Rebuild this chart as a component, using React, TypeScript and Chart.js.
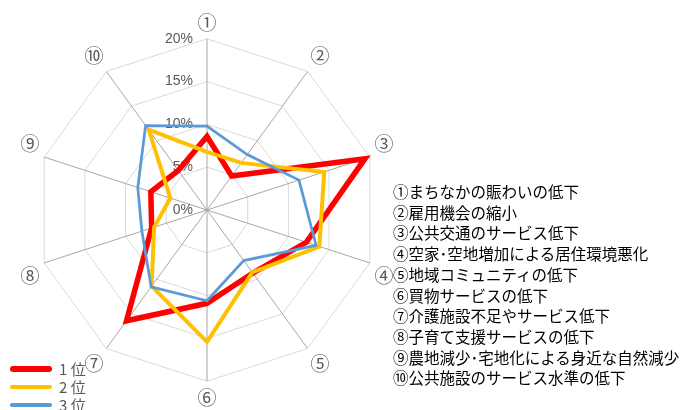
import React, { useEffect, useRef } from "react";
import { Chart, registerables } from "chart.js";

Chart.register(...registerables);

const categories = ["①", "②", "③", "④", "⑤", "⑥", "⑦", "⑧", "⑨", "⑩"];
const itemTexts = [
  "①まちなかの賑わいの低下",
  "②雇用機会の縮小",
  "③公共交通のサービス低下",
  "④空家･空地増加による居住環境悪化",
  "⑤地域コミュニティの低下",
  "⑥買物サービスの低下",
  "⑦介護施設不足やサービス低下",
  "⑧子育て支援サービスの低下",
  "⑨農地減少･宅地化による身近な自然減少",
  "⑩公共施設のサービス水準の低下",
];
const seriesNames = ["1 位", "2 位", "3 位"];
const seriesColors = ["#ff0000", "#ffc000", "#5b9bd5"];
const rank1 = [8.6, 4.9, 19.4, 12.2, 9.1, 10.9, 16.0, 6.8, 6.9, 5.7];
const rank2 = [6.8, 6.8, 14.4, 13.8, 9.0, 15.4, 11.0, 6.5, 4.5, 11.6];
const rank3 = [9.8, 8.0, 11.3, 13.4, 7.3, 10.6, 11.1, 8.0, 8.5, 12.2];
const tickValues = [0, 5, 10, 15, 20];

const lineWidths = [5.5, 4, 2.75];
const legendWidths = [6, 4.5, 3.5];

const tickLabelPlugin = {
  id: "tickLabels",
  beforeDatasetsDraw(chart: any) {
    const s = chart.scales.r;
    const ctx = chart.ctx;
    ctx.save();
    ctx.font = '14px "Liberation Sans Narrow", "Liberation Sans", Arial, sans-serif';
    ctx.fillStyle = "#595959";
    ctx.textAlign = "right";
    ctx.textBaseline = "middle";
    for (const v of tickValues) {
      const d = s.getDistanceFromCenterForValue(v);
      ctx.fillText(v + "%", s.xCenter - 14, s.yCenter - d);
    }
    ctx.restore();
  },
};

export default function App() {
  const ref = useRef<HTMLCanvasElement | null>(null);

  useEffect(() => {
    document.body.style.margin = "0";
    if (!ref.current) return;
    const data = [rank1, rank2, rank3];
    const chart = new Chart(ref.current, {
      type: "radar",
      data: {
        labels: categories,
        datasets: data.map((d, i) => ({
          label: seriesNames[i],
          data: d,
          borderColor: seriesColors[i],
          backgroundColor: seriesColors[i],
          borderWidth: lineWidths[i],
          fill: false,
          pointRadius: 0,
          pointHoverRadius: 0,
          tension: 0,
          borderJoinStyle: "miter" as const,
          order: 3 - i,
        })),
      },
      options: {
        responsive: false,
        animation: false,
        maintainAspectRatio: false,
        layout: { padding: { left: 0, right: 270, top: 11, bottom: -2 } },
        plugins: {
          legend: { display: false },
          tooltip: { enabled: false },
          title: { display: false },
        },
        scales: {
          r: {
            min: 0,
            max: 20,
            beginAtZero: true,
            ticks: { display: false, stepSize: 5 },
            grid: { circular: false, color: "#d9d9d9", lineWidth: 1 },
            angleLines: { display: true, color: "#a6a6a6", lineWidth: 1 },
            pointLabels: {
              display: true,
              padding: 5,
              color: "#595959",
              font: { size: 19, family: '"Noto Sans CJK JP", "DejaVu Sans", sans-serif' },
            },
          },
        },
      },
      plugins: [tickLabelPlugin],
    });
    return () => chart.destroy();
  }, []);

  return (
    <div
      style={{
        position: "absolute",
        left: 0,
        top: 0,
        width: 684,
        height: 410,
        overflow: "hidden",
        background: "#ffffff",
      }}
    >
      <canvas ref={ref} width={684} height={410} style={{ position: "absolute", left: 0, top: 0 }} />
      <div
        style={{
          position: "absolute",
          left: 393,
          top: 181,
          fontFamily: '"Noto Sans CJK JP", sans-serif',
          fontSize: 15.5,
          lineHeight: "20.7px",
          color: "#000000",
          whiteSpace: "nowrap",
        }}
      >
        {itemTexts.map((t) => (
          <div key={t}>{t}</div>
        ))}
      </div>
      {seriesNames.map((name, i) => (
        <div
          key={name}
          style={{
            position: "absolute",
            left: 10,
            top: 369 + i * 18 - 10,
            height: 20,
            display: "flex",
            alignItems: "center",
          }}
        >
          <div
            style={{
              width: 42,
              height: legendWidths[i],
              borderRadius: legendWidths[i] / 2,
              background: seriesColors[i],
            }}
          />
          <span
            style={{
              marginLeft: 7,
              fontFamily: '"Noto Sans CJK JP", sans-serif',
              fontSize: 15,
              color: "#595959",
              lineHeight: "20px",
            }}
          >
            {name}
          </span>
        </div>
      ))}
    </div>
  );
}
